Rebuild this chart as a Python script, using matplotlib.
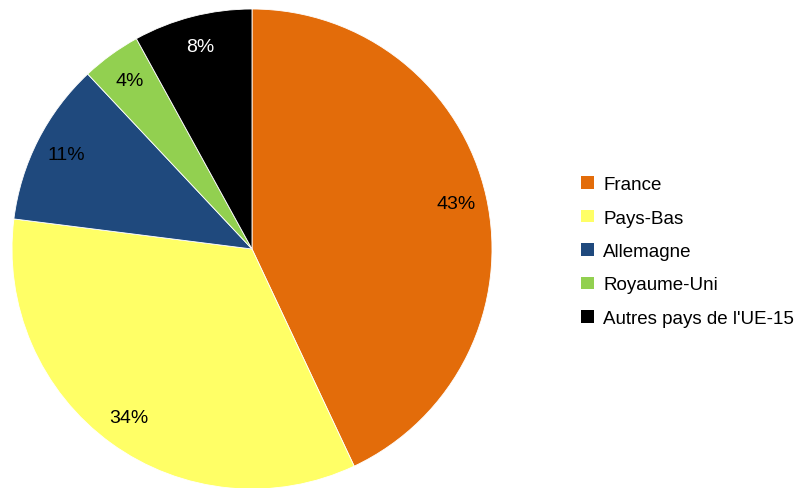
import matplotlib.pyplot as plt
from matplotlib.patches import Patch

plt.rcParams['font.family'] = ['Liberation Sans Narrow', 'Liberation Sans', 'DejaVu Sans']

pays = ['France', 'Pays-Bas', 'Allemagne', 'Royaume-Uni', "Autres pays de l'UE-15"]
parts = [43, 34, 11, 4, 8]
couleurs = ['#E36C0A', '#FFFF66', '#1F497D', '#92D050', '#000000']
couleurs_texte = ['black', 'black', 'black', 'black', 'white']

fig = plt.figure(figsize=(8.04, 4.89), dpi=100)
ax = fig.add_axes([12 / 804, -1 / 489, 480 / 804, 480 / 489])

wedges, texts, autotexts = ax.pie(parts, colors=couleurs, startangle=90, counterclock=False,
                                  autopct='%1.0f%%', pctdistance=0.87, radius=1,
                                  wedgeprops=dict(edgecolor='white', linewidth=0.6))
for t, c in zip(autotexts, couleurs_texte):
    t.set_color(c)
    t.set_fontsize(14)
ax.set_xlim(-1, 1)
ax.set_ylim(-1, 1)
ax.set_aspect('equal')

handles = [Patch(facecolor=c, edgecolor='none') for c in couleurs]
fig.legend(handles, pays, loc='center left', bbox_to_anchor=(574 / 804, 1 - 252.5 / 489),
           frameon=False, fontsize=13.5, handlelength=0.65, handleheight=0.65,
           handletextpad=0.5, labelspacing=0.88, borderaxespad=0)

fig.savefig('out.png', dpi=100)
